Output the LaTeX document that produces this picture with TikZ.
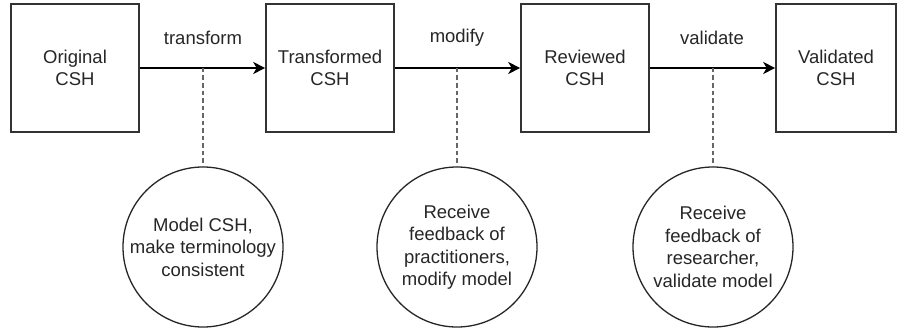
\documentclass[tikz,border=0pt]{standalone}
\usepackage{fontspec}
\setmainfont{Liberation Sans}
\usetikzlibrary{arrows.meta}
\begin{document}
\begin{tikzpicture}[x=1pt,y=-1pt,
  txt/.style={font=\fontsize{18.5}{22.5}\selectfont, text=black!85, align=center},
  stage/.style={txt, draw=black!80, line width=1.6pt, minimum width=128pt, minimum height=128pt, inner sep=0pt},
  task/.style={txt, circle, draw=black!85, line width=1.3pt, minimum size=160pt, inner sep=0pt},
  flow/.style={line width=1.6pt, draw=black, -{Stealth[length=12pt,width=12pt,inset=3.5pt]}},
  link/.style={line width=1.6pt, draw=black!60, dash pattern=on 4.5pt off 3pt},
  lbl/.style={txt}]
\useasboundingbox (0,0) rectangle (897,329);

% process stages
\node[stage] (orig)  at (75,68)  {Original\\CSH};
\node[stage] (trans) at (330,68) {Transformed\\CSH};
\node[stage] (rev)   at (585,68) {Reviewed\\CSH};
\node[stage, minimum width=120pt] (valid) at (836,68) {Validated\\CSH};

% transitions
\draw[flow] (orig.east) -- (trans.west);
\draw[flow] (trans.east) -- (rev.west);
\draw[flow] (rev.east) -- (valid.west);

\node[lbl] (l1) at (203,38) {transform};
\node[lbl] (l2) at (457,38) {modify};
\node[lbl] (l3) at (712,38) {validate};

% activities behind each transition
\node[task] (a1) at (203,247) {Model CSH,\\make terminology\\consistent};
\node[task] (a2) at (457,247) {Receive\\feedback of\\practitioners,\\modify model};
\node[task] (a3) at (713,247) {Receive\\feedback of\\researcher,\\validate model};

\coordinate (p1) at (a1.north |- orig.east);
\coordinate (p2) at (a2.north |- trans.east);
\coordinate (p3) at (a3.north |- rev.east);
\draw[link] (p1) -- (a1.north);
\draw[link] (p2) -- (a2.north);
\draw[link] (p3) -- (a3.north);
\end{tikzpicture}
\end{document}
